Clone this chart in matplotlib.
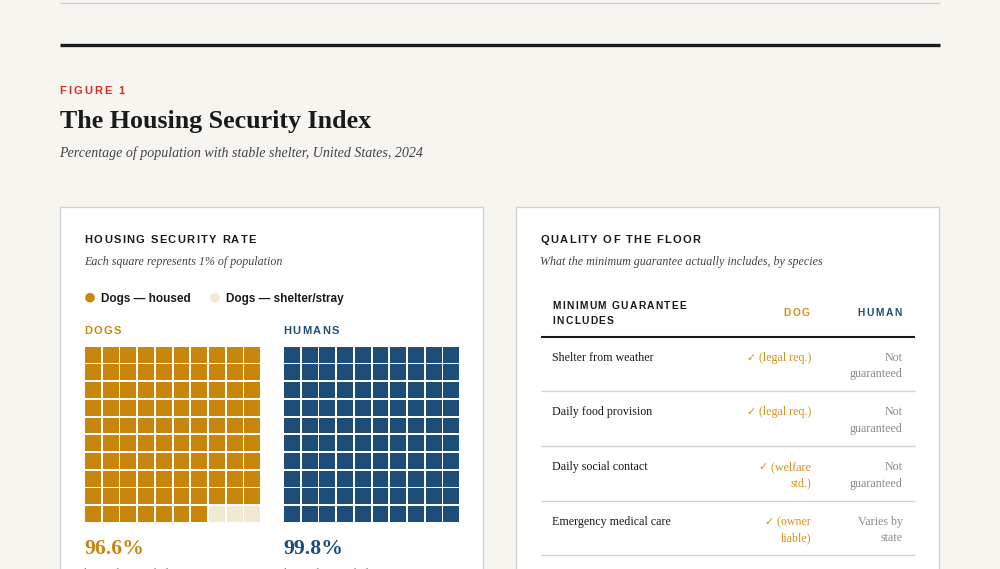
import matplotlib
matplotlib.use("Agg")
import matplotlib.pyplot as plt
from matplotlib.patches import Rectangle, Circle
from matplotlib.font_manager import FontProperties, findfont, get_font

# ---------------- data ----------------
groups = ["DOGS", "HUMANS"]
secure_pct = [96.6, 99.8]
legend_labels = ["Dogs \u2014 housed", "Dogs \u2014 shelter/stray"]
footnotes = ["housed or in shelter", "housed or in shelter"]

table_header = ["MINIMUM GUARANTEE\nINCLUDES", "DOG", "HUMAN"]
table_items = ["Shelter from weather", "Daily food provision",
               "Daily social contact", "Emergency medical care"]
table_dog = ["\u2713 (legal req.)", "\u2713 (legal req.)",
             "\u2713 (welfare\nstd.)", "\u2713 (owner\nliable)"]
table_human = ["Not\nguaranteed", "Not\nguaranteed",
               "Not\nguaranteed", "Varies by\nstate"]

# ---------------- style ----------------
BG = "#f7f5f0"
GOLD = "#c8860d"
GOLD_TXT = "#d4921a"
STRAY = "#f3e8d2"
BLUE = "#1d4e79"
RED = "#d42a20"
DARK = "#1a1a1a"
GRAY = "#8a8a8a"
SUB = "#444444"
BORDER = "#d2d2d2"
SERIF = ["Liberation Serif", "DejaVu Serif"]
SANS = "Liberation Sans"

fig = plt.figure(figsize=(10, 5.69), dpi=100, facecolor=BG)
ax = fig.add_axes([0, 0, 1, 1])
ax.set_xlim(0, 1000)
ax.set_ylim(569, 0)
ax.axis("off")
ax.set_facecolor(BG)


def spaced(x, y, s, size, spacing, color, ha="left", weight="bold", family=SANS):
    fp = FontProperties(family=family, weight=weight, size=size)
    font = get_font(findfont(fp))
    font.set_size(size, 100)
    advs = [font.load_char(ord(c)).linearHoriAdvance / 65536.0 for c in s]
    total = sum(advs) + spacing * (len(s) - 1)
    if ha == "right":
        x -= total
    for c, a in zip(s, advs):
        if c != " ":
            ax.text(x, y, c, fontproperties=fp, color=color, va="baseline", ha="left")
        x += a + spacing


# header lines
ax.plot([60, 940], [3, 3], color="#cfcfcf", lw=1, solid_capstyle="butt")
ax.plot([60, 940], [45, 45], color=DARK, lw=2.4, solid_capstyle="butt")

spaced(59.5, 94, "FIGURE 1", 8, 2.0, RED)
ax.text(59.5, 128, "The Housing Security Index", family=SERIF, weight="bold",
        size=18.7, color=DARK, va="baseline")
ax.text(59.5, 157, "Percentage of population with stable shelter, United States, 2024",
        family=SERIF, style="italic", size=10.05, color=SUB, va="baseline")

# cards
for x0 in (60, 516):
    ax.add_patch(Rectangle((x0, 206.5), 423, 400, facecolor="white",
                           edgecolor=BORDER, lw=1, zorder=1))

# ---------------- left card ----------------
spaced(84.5, 243, "HOUSING SECURITY RATE", 8, 1.35, DARK)
ax.text(84.5, 265, "Each square represents 1% of population", family=SERIF,
        style="italic", size=8.65, color=SUB, va="baseline")

leg_x = [90, 215]
leg_colors = [GOLD, STRAY]
for lx, lab, col in zip(leg_x, legend_labels, leg_colors):
    ax.add_patch(Circle((lx, 297.7), 4.8, facecolor=col, edgecolor="none", zorder=3))
    ax.text(lx + 11, 302, lab, family=SANS, weight="bold", size=8.45,
            color=DARK, va="baseline")

grid_x0 = [85, 284]
grid_col = [GOLD, BLUE]
pitch = 17.7
cell = 15.9
for gx, name, pct, col, note in zip(grid_x0, groups, secure_pct, grid_col, footnotes):
    spaced(gx - 0.5, 334, name, 8, 1.3, col)
    n_fill = int(round(pct))
    for i in range(100):
        r, c = divmod(i, 10)
        fc = col if i < n_fill else STRAY
        ax.add_patch(Rectangle((gx + c * pitch, 346.7 + r * pitch), cell, cell,
                               facecolor=fc, edgecolor="none", zorder=3, snap=True))
    ax.text(gx - 0.5, 554, f"{pct:.1f}%", family=SERIF, weight="bold", size=15.7,
            color=col, va="baseline")
    ax.text(gx - 0.5, 577, note, family=SERIF, size=9, color=GRAY, va="baseline")

# ---------------- right card ----------------
spaced(540.5, 243, "QUALITY OF THE FLOOR", 8, 1.32, DARK)
ax.text(540.5, 265, "What the minimum guarantee actually includes, by species",
        family=SERIF, style="italic", size=8.65, color=SUB, va="baseline")

h_lines = table_header[0].split("\n")
spaced(552.5, 309, h_lines[0], 7.4, 1.25, DARK)
spaced(552.5, 324, h_lines[1], 7.4, 1.25, DARK)
spaced(810, 316, table_header[1], 7.4, 1.5, GOLD_TXT, ha="right")
spaced(902, 316, table_header[2], 7.4, 1.5, BLUE, ha="right")

ax.plot([541, 915], [336.8, 336.8], color=DARK, lw=1.5, solid_capstyle="butt")

row_base = [360.5, 415.2, 470, 524.8]
sep_y = [391, 445.7, 501, 555.3]
line_h = 16.6
renderer = fig.canvas.get_renderer()
for yb, ys, item, d, h in zip(row_base, sep_y, table_items, table_dog, table_human):
    ax.text(552.5, yb, item, family=SERIF, size=8.65, color=DARK, va="baseline")
    lines_d = d.split("\n")
    for k, ln in enumerate(lines_d):
        if ln.startswith("\u2713"):
            t = ax.text(811, yb + k * line_h, ln[1:], family=SERIF, size=8.65,
                        color=GOLD_TXT, va="baseline", ha="right")
            w = t.get_window_extent(renderer).width
            ax.text(811 - w - 0.5, yb + k * line_h, "\u2713", family="DejaVu Sans",
                    size=7.8, color=GOLD_TXT, va="baseline", ha="right")
        else:
            ax.text(811, yb + k * line_h, ln, family=SERIF, size=8.65,
                    color=GOLD_TXT, va="baseline", ha="right")
    for k, ln in enumerate(h.split("\n")):
        ax.text(902.7, yb + k * line_h, ln, family=SERIF, size=8.65, color=GRAY,
                va="baseline", ha="right")
    ax.plot([541, 915], [ys, ys], color=BORDER, lw=1, solid_capstyle="butt")

fig.savefig("out.png", dpi=100, facecolor=BG)
